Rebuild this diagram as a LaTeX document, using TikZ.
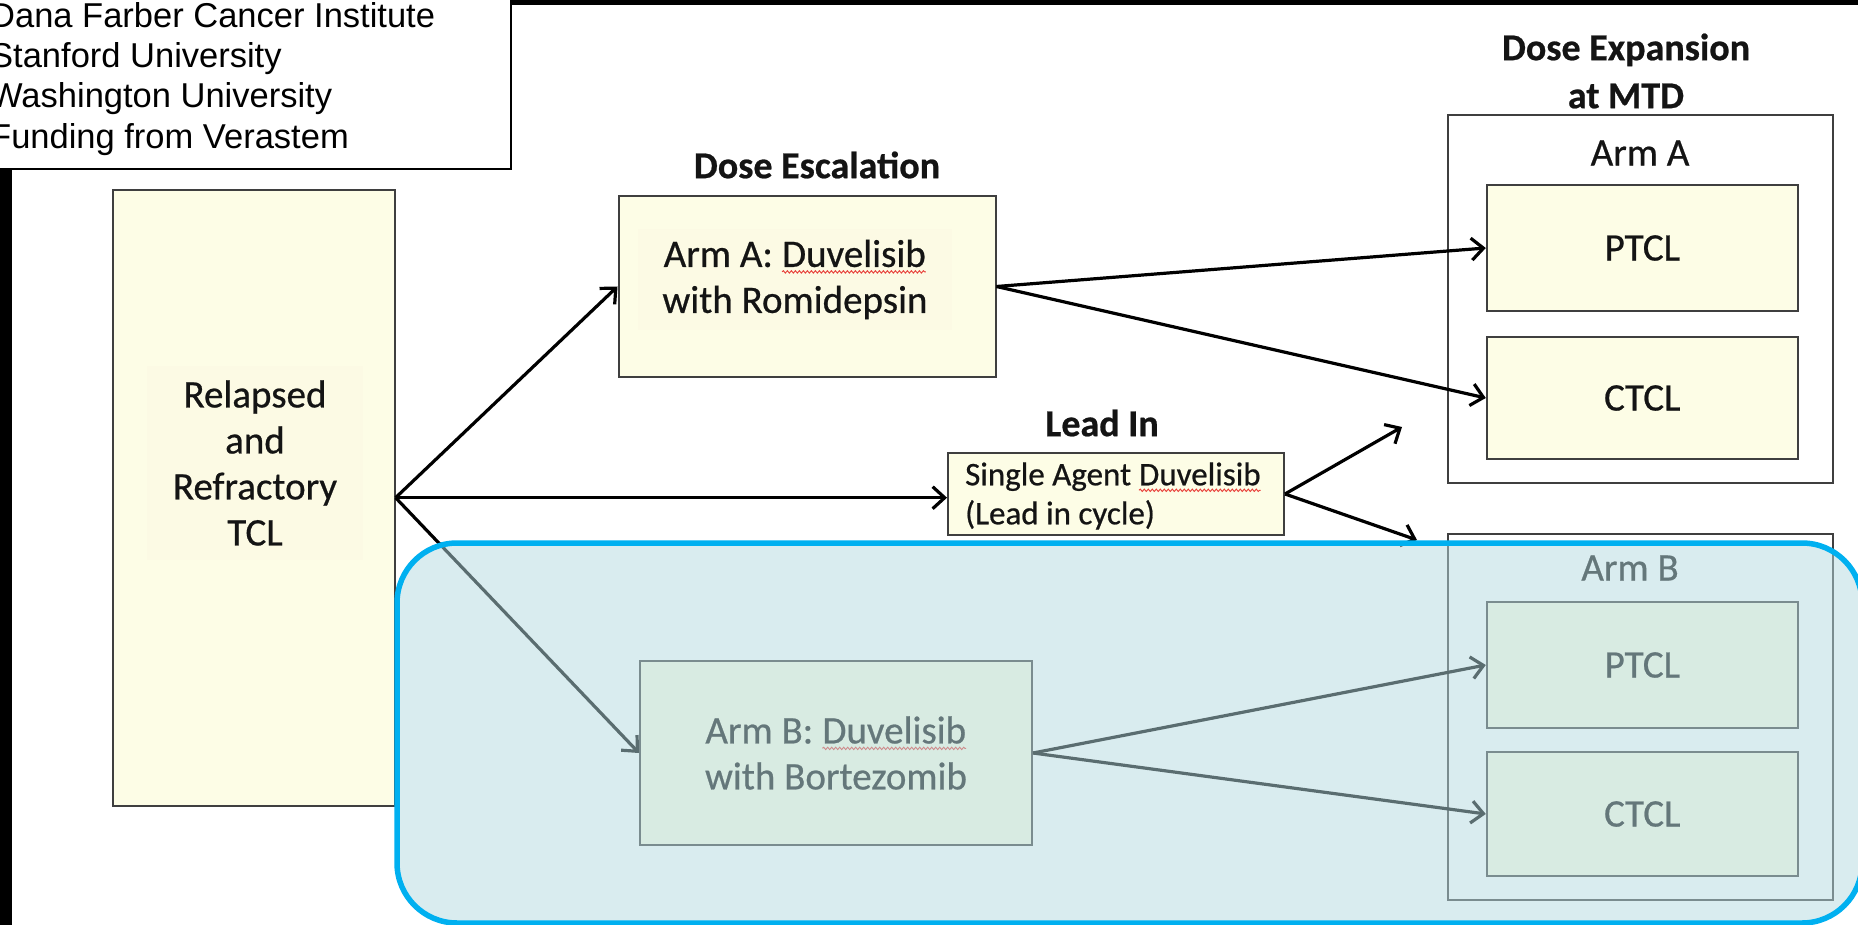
\documentclass[tikz,border=0pt]{standalone}
\usepackage{fontspec}
\setmainfont{Carlito}[FakeBold=0.6]
\newfontfamily\arialfont{Liberation Sans}
\usetikzlibrary{arrows.meta,decorations.pathmorphing}
\definecolor{spellred}{HTML}{E8403A}
\definecolor{boxfill}{HTML}{FDFDE6}
\definecolor{boxline}{HTML}{3F3F3F}
\definecolor{txtbg}{HTML}{FCFAE4}
\definecolor{textc}{HTML}{141414}
\definecolor{overlayfill}{HTML}{B5DAE0}
\definecolor{overlayline}{HTML}{00B0F0}
\newcommand\spellwave[1]{\tikz[baseline=(w.base)]{\node[inner sep=0pt, outer sep=0pt, minimum width=0pt, minimum height=0pt, draw=none, fill=none, anchor=center] (w) {#1};
  \draw[spellred, line width=0.9pt, decorate, decoration={snake, amplitude=1.2pt, segment length=4pt}] ([yshift=-5pt]w.base west) -- ([yshift=-5pt]w.base east);}}
\tikzset{
  ybox/.style={draw=boxline, line width=2pt, fill=boxfill, inner sep=0pt},
  frame/.style={draw=boxline, line width=2pt, inner sep=0pt},
  body/.style={font=\fontsize{39}{46}\selectfont, text=textc, align=center},
  title/.style={font=\bfseries\fontsize{38}{48}\selectfont, text=textc, align=center, inner sep=0pt},
  conn/.style={line width=3.2pt, draw=black, -{Straight Barb[length=12pt,width=22pt]}},
}
\begin{document}
\begin{tikzpicture}[x=1pt,y=-1pt]
\useasboundingbox (0,0) rectangle (1858,925);
\fill[white] (0,0) rectangle (1858,925);
% black page edges
\fill[black] (511,0) rectangle (1858,5);
\fill[black] (0,169) rectangle (12,925);
% affiliation box
\draw[line width=1.5pt, fill=white] (-10,-10) rectangle (511,169);
\node[anchor=north west, align=left, inner sep=0pt, font=\arialfont\fontsize{34.5}{40.3}\selectfont] (inst) at (-10,2)
  {Dana Farber Cancer Institute\\Stanford University\\Washington University\\Funding from Verastem};

% left box
\node[ybox, minimum width=282pt, minimum height=616pt] (rel) at (253.6,497.7) {};
\node[body, fill=txtbg, inner xsep=26pt, inner ysep=14pt] (reltxt) at (255,463) {Relapsed\\and\\Refractory\\TCL};

% dose escalation
\node[title] (esc) at (817,165) {Dose Escalation};
\node[ybox, minimum width=377pt, minimum height=181pt] (armA) at (807,286.5) {};
\node[body, fill=txtbg, inner xsep=24pt, inner ysep=11pt] (armAtxt) at (795,279.5) {Arm A: \spellwave{Duvelisib}\\with Romidepsin};

% lead in
\node[title] (lead) at (1102,423) {Lead In};
\node[ybox, minimum width=336pt, minimum height=82pt] (single) at (1116,494) {};
\node[font=\fontsize{33}{39}\selectfont, text=textc, align=left, anchor=west, inner sep=0pt] (singletxt) at (965,496)
  {Single Agent \spellwave{Duvelisib}\\(Lead in cycle)};

% arm B escalation
\node[ybox, body, minimum width=392pt, minimum height=184pt] (armB) at (836,753) {Arm B: \spellwave{Duvelisib}\\with Bortezomib};

% dose expansion
\node[title] (exp) at (1626,71) {Dose Expansion\\at MTD};
\node[frame, minimum width=385pt, minimum height=368pt] (contA) at (1640.5,299) {};
\node[body, inner sep=0pt] (armAlab) at (1640,153) {Arm A};
\node[ybox, body, minimum width=311pt, minimum height=126pt] (ptclA) at (1642.3,248) {PTCL};
\node[ybox, body, minimum width=311pt, minimum height=122pt] (ctclA) at (1642.3,398) {CTCL};

\node[frame, minimum width=385pt, minimum height=366pt] (contB) at (1640.5,717) {};
\node[body, inner sep=0pt] (armBlab) at (1630,568) {Arm B};
\node[ybox, body, minimum width=311pt, minimum height=126pt] (ptclB) at (1642.3,665) {PTCL};
\node[ybox, body, minimum width=311pt, minimum height=124pt] (ctclB) at (1642.3,814) {CTCL};

% connectors
\draw[conn] (rel.east) -- (armA.west);
\draw[conn] (rel.east) -- (rel.east -| single.west);
\draw[conn] (rel.east) -- (armB.west);
\draw[conn] (armA.east) -- (ptclA.west);
\draw[conn] (armA.east) -- (ctclA.west);
\coordinate (leadup) at (1402,427);
\coordinate (leaddn) at (1417,540);
\draw[conn] (single.east) -- (leadup);
\draw[conn] (single.east) -- (leaddn);
\draw[conn] (armB.east) -- (ptclB.west);
\draw[conn] (armB.east) -- (ctclB.west);

% highlight overlay
\draw[draw=overlayline, line width=5.5pt, fill=overlayfill, fill opacity=0.5, rounded corners=60pt] (397,543) rectangle (1862,923);
\end{tikzpicture}
\end{document}
